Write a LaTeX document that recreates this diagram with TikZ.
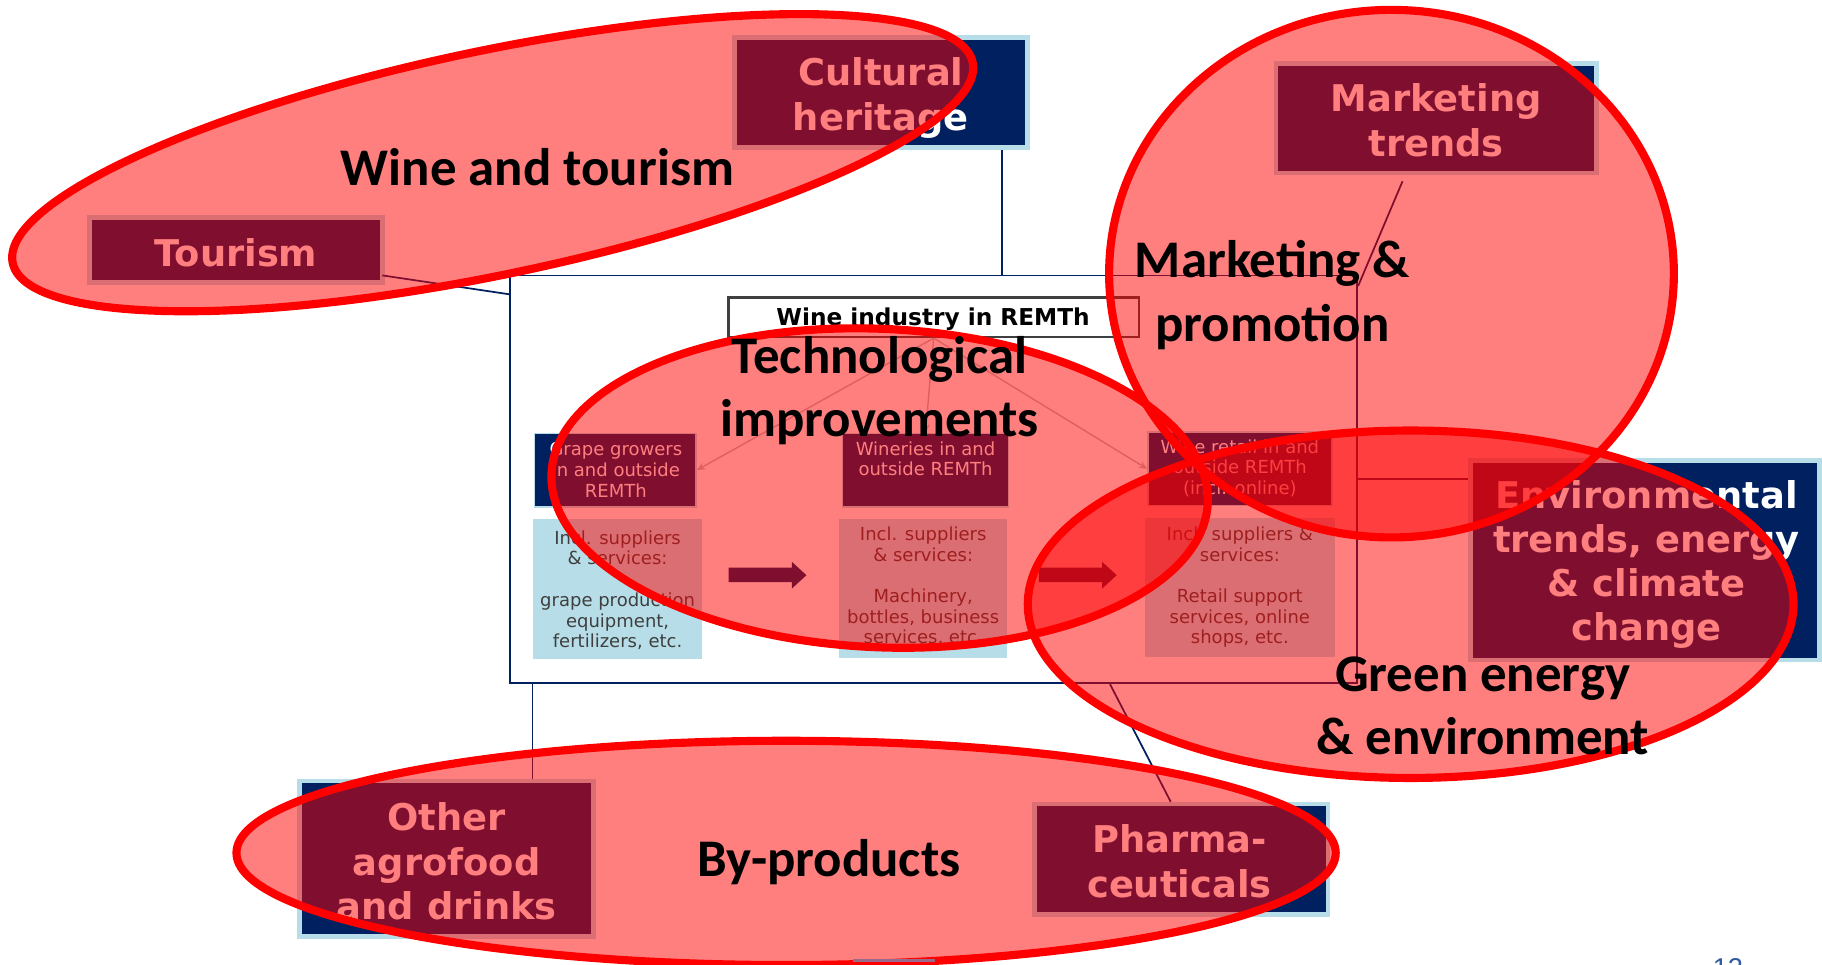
\documentclass[tikz,border=0pt]{standalone}
\usepackage{fontspec}
\setmainfont{DejaVu Sans}
\newfontfamily\calfont{Carlito}
\newfontfamily\pgfont{Liberation Sans}
\usetikzlibrary{arrows.meta,calc}
\definecolor{navy}{HTML}{002060}
\definecolor{lblue}{HTML}{B7DEE8}
\definecolor{dgray}{HTML}{3F3F3F}
\definecolor{lgray}{HTML}{BFBFBF}
\definecolor{pgblue}{HTML}{2E5C9E}
\definecolor{sliver}{HTML}{9A6A8A}
\begin{document}
\begin{tikzpicture}[x=1pt,y=-1pt,
  outerbox/.style={draw=lblue, line width=4pt, fill=navy, inner sep=0pt},
  boxlbl/.style={text=white, font=\bfseries\fontsize{31.7}{38.5}\selectfont, align=center, anchor=base, inner sep=0pt},
  topbox/.style={draw=lblue, line width=1.5pt, fill=navy, inner sep=0pt},
  botbox/.style={fill=lblue, inner sep=0pt},
  intxt/.style={font=\fontsize{15.5}{17.8}\selectfont, align=center, anchor=base, inner sep=0pt},
  garrow/.style={draw=lgray, line width=1.2pt, -{Stealth[length=7pt,width=6pt]}},
  conn/.style={draw=navy, line width=1.5pt},
  redoval/.style={fill=red, fill opacity=0.5, draw=red, draw opacity=1, line width=7pt},
  biglbl/.style={font=\calfont\bfseries\fontsize{45.5}{55}\selectfont, align=center, anchor=base, inner sep=0pt, text=black}
]
\useasboundingbox (0,0) rectangle (1568,830);
\fill[white] (0,0) rectangle (1568,830);

% central frame
\node[draw=navy, line width=1.5pt, fill=white, minimum width=729pt, minimum height=351pt, inner sep=0pt] (central) at (803.5,412.5) {};

% outer boxes
\node[outerbox, minimum width=252pt, minimum height=95pt] (cult) at (758,79.5) {};
\node[outerbox, minimum width=252pt, minimum height=56pt] (tour) at (203,215) {};
\node[outerbox, minimum width=276pt, minimum height=94.5pt] (mkt) at (1236,101.75) {};
\node[outerbox, minimum width=300.5pt, minimum height=171.5pt] (env) at (1415.75,482.25) {};
\node[outerbox, minimum width=253pt, minimum height=134pt] (agro) at (384.5,739) {};
\node[outerbox, minimum width=253pt, minimum height=95pt] (phar) at (1016.5,739.5) {};

% connectors
\coordinate (cultx) at (862,0);
\draw[conn] (cult.south -| cultx) -- (central.north -| cultx);
\draw[conn] ($(tour.south east)+(-2,-8)$) -- ($(central.north west)+(0,17)$);
\draw[conn] ($(mkt.south)+(-29,5)$) -- ($(central.north east)+(0,10)$);
\draw[conn] ($(central.north east)+(0,176)$) coordinate (envJ) -- (env.west |- envJ);
\draw[conn] ($(central.south west)+(20,0)$) coordinate (agJ) -- (agJ |- agro.north);
\draw[conn] ($(central.south west)+(517,0)$) -- ($(phar.north)+(-9,0)$);

% outer box labels (anchor base = last line)
\node[boxlbl] (cultT) at (758,112.5) {Cultural\\heritage};
\node[boxlbl] (tourT) at (203,229.5) {Tourism};
\node[boxlbl] (mktT) at (1236,134.8) {Marketing\\trends};
\node[boxlbl, font=\bfseries\fontsize{31.7}{37.6}\selectfont] (envT) at (1417,550.8) {Environmental\\trends, energy\\\& climate\\change};
\node[boxlbl] (agroT) at (384.5,791.7) {Other\\agrofood\\and drinks};
\node[boxlbl] (pharT) at (1015,772) {Pharma-\\ceuticals};

% inner diagram
\node[draw=dgray, line width=2pt, fill=white, minimum width=353pt, minimum height=34pt, inner sep=0pt] (wib) at (803.5,273) {};
\node[font=\bfseries\fontsize{20}{24}\selectfont, anchor=base, inner sep=0pt] (wibT) at (803,280.5) {Wine industry in REMTh};

\node[topbox, minimum width=139pt, minimum height=63pt] (grapeTop) at (529.5,404.5) {};
\node[topbox, minimum width=143pt, minimum height=63pt] (winTop) at (796.5,404.5) {};
\node[topbox, minimum width=158pt, minimum height=63pt] (retTop) at (1067,403.5) {};
\node[botbox, minimum width=145pt, minimum height=120pt] (grapeBot) at (531.5,507) {};
\node[botbox, minimum width=145pt, minimum height=119pt] (winBot) at (794.5,506.5) {};
\node[botbox, minimum width=164pt, minimum height=119pt] (retBot) at (1067,505.5) {};

\node[intxt, text=white] (grapeTopT) at (530,427.9) {Grape growers\\in and outside\\REMTh};
\node[intxt, text=white] (winTopT) at (796.5,409.6) {Wineries in and\\outside REMTh};
\node[intxt, text=white] (retTopT) at (1067,425.6) {Wine retail in and\\outside REMTh\\(incl. online)};
\node[intxt, text=dgray] (grapeBotT) at (531.5,557.4) {Incl. suppliers\\\& services:\\[17.8pt]grape production\\equipment,\\fertilizers, etc.};
\node[intxt, text=dgray] (winBotT) at (794.5,554.2) {Incl. suppliers\\\& services:\\[17.8pt]Machinery,\\bottles, business\\services, etc.};
\node[intxt, text=dgray] (retBotT) at (1067,554.2) {Incl. suppliers \&\\services:\\[17.8pt]Retail support\\services, online\\shops, etc.};

\draw[garrow] (wib.south) -- (grapeTop.east);
\draw[garrow] (wib.south) -- (winTop.north);
\draw[garrow] (wib.south) -- (retTop.west);

% block arrows
\fill[navy] (627,488.5) -- (681.5,488.5) -- (681.5,483.5) -- (694,495) -- (681.5,506.5) -- (681.5,501) -- (627,501) -- cycle;
\fill[navy] (894,488.5) -- (948.5,488.5) -- (948.5,483.5) -- (961,495) -- (948.5,506.5) -- (948.5,501) -- (894,501) -- cycle;

% red overlay ellipses
\draw[redoval, rotate around={11.8:(424,140)}] (424,140) ellipse [x radius=422pt, y radius=96.4pt];
\draw[redoval] (1197.5,235.5) ellipse [x radius=243pt, y radius=227pt];
\draw[redoval, rotate around={-2.6:(757,420)}] (757,420) ellipse [x radius=282.7pt, y radius=137pt];
\draw[redoval] (1214,520) ellipse [x radius=329.5pt, y radius=149.5pt];
\draw[redoval] (676.5,734) ellipse [x radius=473pt, y radius=96.5pt];

\fill[sliver] (734,825.4) rectangle (805,828);

% black labels (anchor base = last line)
\node[biglbl] (wtL) at (462.5,159.8) {Wine and tourism};
\node[biglbl] (techL) at (757,376) {Technological\\improvements};
\node[biglbl] (mpL) at (1095,294) {Marketing \&\\promotion};
\node[biglbl] (geL) at (1276,649.7) {Green energy\\\& environment};
\node[biglbl] (bpL) at (713.5,754.5) {By-products};

% page number (cut off at the lower edge)
\node[font=\pgfont\fontsize{23.4}{28}\selectfont, text=pgblue, anchor=north, inner sep=0pt] (pgno) at (1487,825) {12};
\end{tikzpicture}
\end{document}
